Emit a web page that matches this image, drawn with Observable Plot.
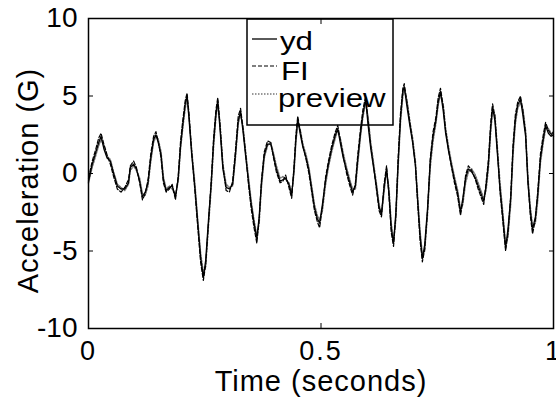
<!DOCTYPE html>
<html><head><meta charset="utf-8">
<script src="https://cdn.jsdelivr.net/npm/d3@7"></script>
<script src="https://cdn.jsdelivr.net/npm/@observablehq/plot@0.6"></script>
<style>
body{margin:0;background:#fff}
#chart svg{font-family:"Liberation Sans",Arial,Helvetica,sans-serif;background:#fff}
</style>
</head><body><div id="chart"></div>
<script>
const time = [0.000,0.008,0.015,0.022,0.027,0.033,0.040,0.047,0.054,0.062,0.070,0.078,0.086,0.090,0.097,0.103,0.110,0.116,0.122,0.128,0.134,0.140,0.145,0.150,0.156,0.161,0.167,0.174,0.180,0.187,0.193,0.198,0.203,0.208,0.212,0.216,0.222,0.229,0.235,0.241,0.247,0.252,0.258,0.264,0.269,0.274,0.278,0.283,0.289,0.296,0.303,0.310,0.316,0.322,0.327,0.332,0.338,0.344,0.350,0.356,0.362,0.367,0.372,0.378,0.385,0.392,0.398,0.404,0.412,0.418,0.424,0.431,0.437,0.442,0.446,0.450,0.455,0.461,0.468,0.474,0.480,0.486,0.492,0.497,0.503,0.510,0.516,0.523,0.530,0.536,0.542,0.548,0.555,0.562,0.568,0.574,0.579,0.585,0.590,0.596,0.601,0.607,0.613,0.619,0.625,0.630,0.636,0.641,0.646,0.651,0.656,0.661,0.666,0.671,0.676,0.679,0.685,0.691,0.697,0.703,0.708,0.713,0.718,0.723,0.729,0.735,0.741,0.747,0.752,0.757,0.763,0.768,0.774,0.780,0.787,0.794,0.800,0.805,0.811,0.817,0.824,0.832,0.838,0.844,0.850,0.855,0.860,0.865,0.869,0.874,0.880,0.885,0.891,0.897,0.902,0.908,0.913,0.918,0.923,0.929,0.934,0.940,0.945,0.950,0.955,0.961,0.966,0.972,0.978,0.983,0.989,0.995,1.000];
const yd = [-0.5,0.6,1.3,2.0,2.4,1.6,1.0,0.8,0.0,-0.8,-1.0,-1.0,-0.6,0.4,0.6,0.3,-0.5,-1.5,-1.2,-0.6,1.0,2.2,2.5,2.0,1.2,-0.4,-1.1,-0.9,-0.8,-1.5,-0.3,1.8,3.2,4.5,5.0,3.6,1.2,-1.0,-3.2,-5.4,-6.7,-5.6,-3.0,-0.6,2.0,3.8,4.7,2.8,0.3,-0.9,-1.0,-0.7,1.2,3.4,4.0,2.8,1.1,-0.5,-2.0,-3.2,-4.2,-2.8,-0.6,1.2,1.9,1.9,1.1,0.3,-0.5,-0.4,-0.3,-0.7,-1.4,0.3,2.2,3.5,2.6,1.7,1.0,0.2,-1.0,-2.2,-2.9,-3.2,-2.0,-0.4,0.6,1.6,2.4,2.9,1.9,1.0,0.2,-0.6,-1.2,-0.8,0.9,2.6,3.8,4.8,3.2,1.6,0.4,-0.8,-2.2,-2.6,-0.8,0.3,-1.2,-3.5,-4.5,-2.5,0.8,3.6,5.3,5.6,4.3,3.1,2.0,0.5,-1.8,-4.0,-5.5,-4.6,-2.3,0.8,2.4,3.4,4.6,5.3,4.0,2.6,1.5,0.6,-0.4,-1.3,-2.5,-1.6,-0.3,0.3,0.1,-0.3,-0.8,-1.3,-1.8,-0.8,0.6,3.0,4.3,3.4,1.0,-1.0,-2.8,-4.8,-3.6,-1.6,1.6,3.5,4.4,4.8,3.8,2.4,-0.6,-2.4,-3.6,-2.8,-1.4,1.0,2.2,3.1,2.6,2.4,2.5];
const fi = [-0.3,0.8,1.5,2.3,2.6,1.9,1.2,0.6,-0.2,-1.0,-1.2,-0.9,-0.4,0.5,0.8,0.4,-0.6,-1.7,-1.3,-0.4,1.3,2.4,2.7,2.1,1.0,-0.6,-1.2,-1.0,-0.7,-1.7,-0.1,2.1,3.5,4.7,5.2,3.9,1.4,-1.2,-3.5,-5.7,-6.9,-5.9,-3.2,-0.4,2.3,4.1,4.9,3.1,0.5,-1.1,-1.2,-0.5,1.5,3.7,4.2,3.0,1.3,-0.7,-2.3,-3.5,-4.5,-3.0,-0.4,1.4,2.1,2.0,1.0,0.1,-0.6,-0.5,-0.1,-0.9,-1.6,0.5,2.5,3.7,2.8,1.8,0.9,0.0,-1.2,-2.4,-3.1,-3.5,-2.2,-0.2,0.8,1.8,2.6,3.1,2.1,1.1,0.0,-0.8,-1.4,-0.6,1.2,2.9,4.1,5.0,3.5,1.8,0.5,-1.0,-2.4,-2.8,-0.6,0.5,-1.4,-3.8,-4.7,-2.7,1.1,3.9,5.5,5.8,4.6,3.3,2.1,0.6,-2.0,-4.3,-5.7,-4.9,-2.5,1.0,2.7,3.6,4.9,5.5,4.3,2.8,1.6,0.5,-0.6,-1.5,-2.7,-1.8,-0.1,0.5,0.2,-0.4,-1.0,-1.5,-2.0,-0.6,0.9,3.3,4.5,3.7,1.2,-1.2,-3.1,-5.0,-3.9,-1.4,1.9,3.8,4.6,5.0,4.1,2.6,-0.4,-2.7,-3.9,-3.0,-1.2,1.3,2.5,3.3,2.8,2.5,2.7];
const preview = [-0.6,0.4,1.1,1.8,2.2,1.8,1.1,0.9,0.1,-0.7,-0.9,-1.1,-0.7,0.2,0.5,0.2,-0.3,-1.3,-1.4,-0.8,0.8,2.0,2.4,2.2,1.4,-0.2,-1.0,-0.8,-1.0,-1.4,-0.5,1.6,3.0,4.2,4.8,3.8,1.5,-0.7,-3.0,-5.1,-6.4,-6.0,-3.4,-0.9,1.7,3.6,4.5,3.2,0.6,-0.7,-0.9,-0.8,1.0,3.2,3.8,3.1,1.4,-0.2,-1.8,-3.0,-4.0,-3.2,-0.9,1.0,1.8,2.0,1.3,0.5,-0.3,-0.2,-0.4,-0.6,-1.2,0.0,2.0,3.2,2.9,1.9,1.2,0.4,-0.8,-2.0,-2.7,-3.0,-2.4,-0.7,0.4,1.4,2.2,2.8,2.2,1.3,0.4,-0.4,-1.0,-1.0,0.6,2.4,3.6,4.6,3.7,2.0,0.7,-0.6,-2.0,-2.7,-1.1,0.1,-0.9,-3.2,-4.3,-3.0,0.4,3.3,5.0,5.4,4.7,3.4,2.3,0.8,-1.5,-3.7,-5.2,-5.0,-2.7,0.4,2.1,3.2,4.4,5.1,4.4,2.9,1.8,0.8,-0.2,-1.1,-2.3,-2.0,-0.6,0.1,0.3,-0.1,-0.6,-1.1,-1.6,-1.1,0.3,2.7,4.0,3.8,1.4,-0.6,-2.5,-4.5,-4.1,-2.0,1.2,3.2,4.2,4.6,4.2,2.8,-0.2,-2.1,-3.4,-3.2,-1.8,0.7,2.0,2.9,2.9,2.6,2.4];
const xTicks = [0, 0.5, 1];
const yTicks = [-10, -5, 0, 5, 10];
const legendLabels = ["yd", "FI", "preview"];
const xLabel = "Time (seconds)";
const yLabel = "Acceleration (G)";

const rows = time.map((t, i) => ({t, yd: yd[i], fi: fi[i], preview: preview[i]}));

const styles = [
  {stroke: "#000", dash: null, width: 1.3},
  {stroke: "#000", dash: "4,2", width: 1.2},
  {stroke: "#777", dash: "1.5,1.5", width: 1.5}
];

function legend(index, scales, values, dims) {
  const g = d3.create("svg:g");
  const left = dims.marginLeft + 159, top = 19, w = 146, h = 106;
  g.append("rect").attr("x", left).attr("y", top).attr("width", w).attr("height", h)
    .attr("fill", "none").attr("stroke", "#000").attr("stroke-width", 1.5);
  const lineY = [39, 66, 94];
  const baseY = [50, 80, 107];
  const textX = [280, 281, 278];
  legendLabels.forEach((lab, i) => {
    const s = styles[i];
    g.append("line").attr("x1", left + 5).attr("x2", left + 30)
      .attr("y1", lineY[i]).attr("y2", lineY[i])
      .attr("stroke", s.stroke).attr("stroke-width", s.width)
      .attr("stroke-dasharray", s.dash);
    g.append("text").attr("transform", `translate(${textX[i]},${baseY[i]}) scale(1.25,1)`)
      .attr("text-anchor", "start")
      .attr("font-size", 25).attr("fill", "#000").text(lab);
  });
  return g.node();
}

const chart = Plot.plot({
  width: 556, height: 397,
  marginLeft: 88, marginRight: 3, marginTop: 18, marginBottom: 69,
  style: {fontFamily: "'Liberation Sans', Arial, sans-serif", background: "white", overflow: "visible"},
  x: {domain: [0, 1]},
  y: {domain: [-10, 10]},
  marks: [
    Plot.lineY(rows, {x: "t", y: "preview", stroke: styles[2].stroke, strokeWidth: styles[2].width, strokeDasharray: styles[2].dash}),
    Plot.lineY(rows, {x: "t", y: "fi", stroke: styles[1].stroke, strokeWidth: styles[1].width, strokeDasharray: styles[1].dash}),
    Plot.lineY(rows, {x: "t", y: "yd", stroke: styles[0].stroke, strokeWidth: styles[0].width}),
    Plot.frame({stroke: "#000", strokeWidth: 1.5}),
    Plot.axisX({anchor: "bottom", ticks: xTicks, tickFormat: d => String(d), tickSize: -5, tickPadding: 17, fontSize: 27, label: null, color: "#000"}),
    Plot.axisX({anchor: "top", ticks: xTicks, tickFormat: () => "", tickSize: -5, label: null}),
    Plot.axisY({anchor: "left", ticks: yTicks, tickFormat: d => String(d), tickSize: -5, tickPadding: 16, fontSize: 28, label: null, color: "#000"}),
    Plot.axisY({anchor: "right", ticks: yTicks, tickFormat: () => "", tickSize: -5, label: null}),
    Plot.text([xLabel], {text: d => d, frameAnchor: "bottom", dy: 53, textAnchor: "middle", lineAnchor: "middle", fontSize: 29, fill: "#000"}),
    Plot.text([yLabel], {text: d => d, frameAnchor: "left", dx: -60, dy: 7, textAnchor: "middle", lineAnchor: "middle", rotate: -90, fontSize: 29, fill: "#000"}),
    legend
  ]
});
document.getElementById("chart").appendChild(chart);
d3.select(chart).selectAll('g[aria-label="text"] text').attr("letter-spacing", "1px");
d3.select(chart).selectAll('g[aria-label="x-axis tick label"] text').attr("letter-spacing", "2px");
</script>
</body></html>
